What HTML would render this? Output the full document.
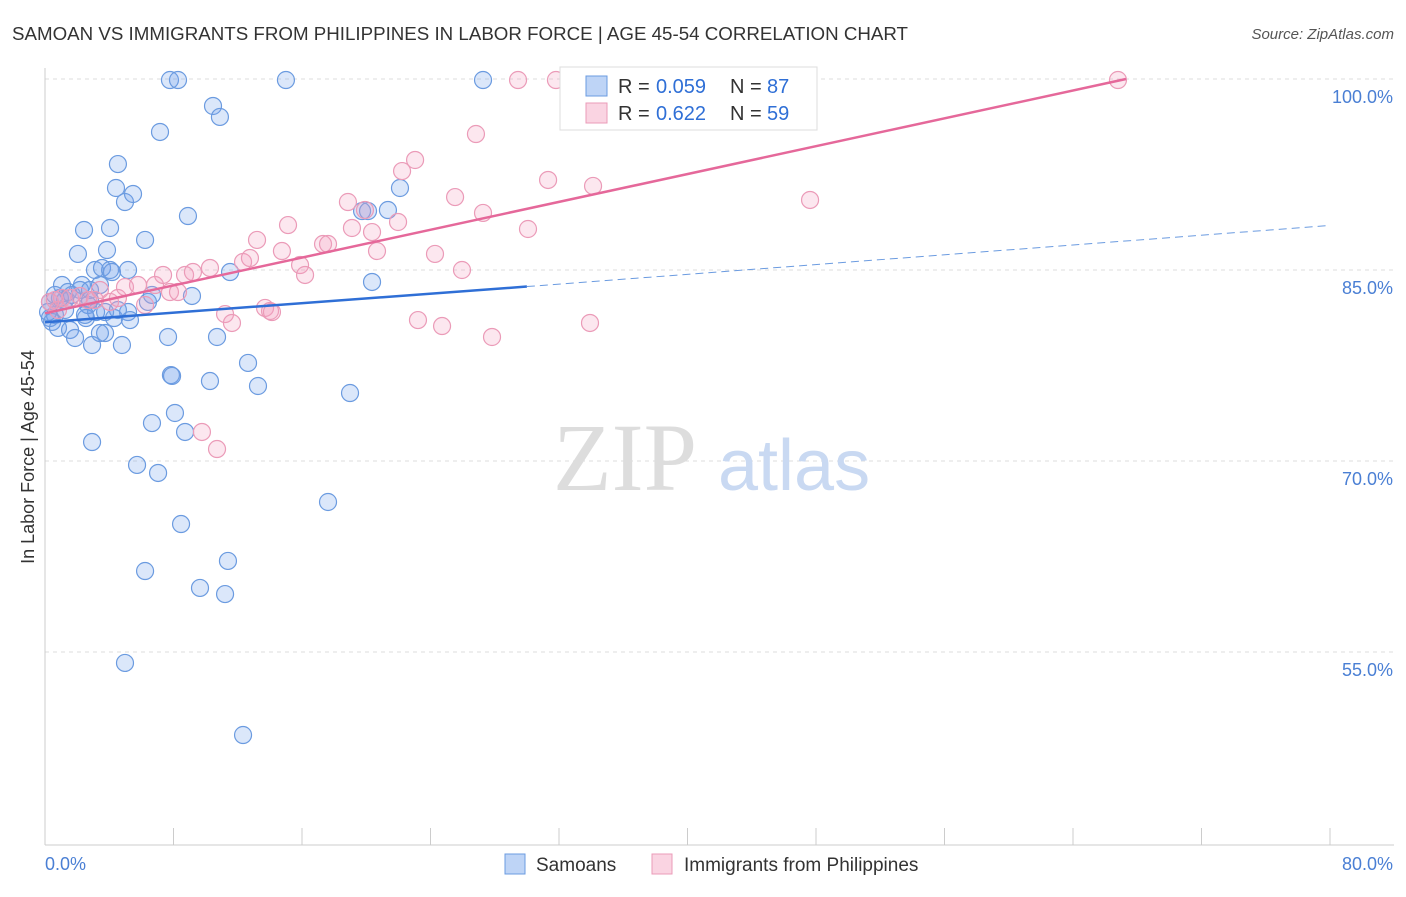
<!DOCTYPE html>
<html><head><meta charset="utf-8"><style>
body{margin:0;background:#fff;font-family:"Liberation Sans",sans-serif}
</style></head><body>
<svg id="chart" width="1406" height="892" xmlns="http://www.w3.org/2000/svg"></svg>
<script>
const bluePx=[[50,318],[55,315],[52,322],[58,328],[48,312],[62,285],[65,300],[68,292],[70,330],[72,295],[75,338],[78,254],[80,290],[82,285],[84,230],[86,318],[88,305],[90,300],[92,345],[92,442],[95,270],[96,312],[100,285],[102,268],[105,333],[107,250],[110,228],[110,270],[112,272],[114,318],[116,188],[118,164],[122,345],[125,202],[125,663],[128,312],[128,270],[133,194],[137,465],[145,240],[145,571],[148,302],[152,295],[152,423],[158,473],[160,132],[168,337],[170,80],[171,375],[172,376],[175,413],[178,80],[181,524],[185,432],[188,216],[192,296],[200,588],[210,381],[213,106],[217,337],[220,117],[225,594],[228,561],[230,272],[243,735],[248,363],[258,386],[286,80],[328,502],[350,393],[362,211],[368,211],[372,282],[388,210],[400,188],[483,80],[100,333],[105,312],[60,298],[90,290],[65,310],[85,315],[50,302],[130,320],[118,310],[55,295]];
const pinkPx=[[50,302],[55,300],[58,310],[62,298],[70,298],[80,296],[88,300],[95,300],[100,290],[110,302],[118,298],[125,287],[138,285],[145,305],[155,285],[163,275],[170,292],[178,292],[185,275],[193,272],[202,432],[210,268],[217,449],[225,314],[232,323],[243,262],[250,258],[257,240],[265,308],[270,311],[272,312],[282,251],[288,225],[300,265],[305,275],[323,244],[328,244],[348,202],[352,228],[365,210],[372,232],[377,251],[398,222],[402,171],[415,160],[418,320],[435,254],[442,326],[455,197],[462,270],[476,134],[483,213],[492,337],[518,80],[528,229],[548,180],[556,80],[590,323],[593,186],[810,200],[1118,80]];
// data arrays (x: %, y: %)
const samoanX=bluePx.map(p=>+((p[0]-45)*80/1285).toFixed(2));
const samoanY=bluePx.map(p=>+(100-(p[1]-79)*15/191).toFixed(2));
const philX=pinkPx.map(p=>+((p[0]-45)*80/1285).toFixed(2));
const philY=pinkPx.map(p=>+(100-(p[1]-79)*15/191).toFixed(2));
const yTicks=[100,85,70,55];
const yTickLabels=["100.0%","85.0%","70.0%","55.0%"];
const blueTrend=[[0,80.9],[30,83.7],[80,88.5]];
const pinkTrend=[[0,81.6],[67.3,100]];

const sx=v=>45+v*1285/80, sy=v=>79+(100-v)*191/15;
const svg=document.getElementById('chart');
const NS='http://www.w3.org/2000/svg';
function mk(t,a,txt){const e=document.createElementNS(NS,t);for(const k in a)e.setAttribute(k,a[k]);if(txt!=null)e.textContent=txt;svg.appendChild(e);return e;}
let e;
e=mk('text',{x:12,y:40,'font-size':18,fill:'#333',textLength:896,lengthAdjust:'spacingAndGlyphs'},'SAMOAN VS IMMIGRANTS FROM PHILIPPINES IN LABOR FORCE | AGE 45-54 CORRELATION CHART');


e=mk('text',{x:1394,y:39,'font-size':15,fill:'#555','text-anchor':'end','font-style':'italic'},'Source: ZipAtlas.com');


yTicks.forEach((t,i)=>{
 e=mk('line',{x1:45,x2:1394,y1:sy(t),y2:sy(t),stroke:'#ddd','stroke-dasharray':'4,4'});
 
 
 e=mk('text',{x:1393,y:sy(t)+24,'font-size':18,fill:'#4a7fd4','text-anchor':'end'},yTickLabels[i]);
 
 
});
e=mk('line',{x1:45,x2:45,y1:68,y2:845,stroke:'#ccc'});


e=mk('line',{x1:45,x2:1394,y1:845,y2:845,stroke:'#ccc'});


for(let i=0;i<=10;i++){e=mk('line',{x1:sx(i*8),x2:sx(i*8),y1:828,y2:845,stroke:'#ccc'});
 
 }
e=mk('text',{x:45,y:870,'font-size':18,fill:'#4a7fd4'},'0.0%');


e=mk('text',{x:1393,y:870,'font-size':18,fill:'#4a7fd4','text-anchor':'end'},'80.0%');


e=mk('text',{x:34,y:457,'font-size':18,fill:'#333','text-anchor':'middle',transform:'rotate(-90 34 457)'},'In Labor Force | Age 45-54');


e=mk('text',{x:553,y:490,'font-size':96,fill:'#ddd','font-family':'Liberation Serif, serif'},'ZIP');


e=mk('text',{x:718,y:490,'font-size':72,fill:'#c9d9f2'},'atlas');


samoanX.forEach((x,i)=>{e=mk('circle',{cx:sx(x),cy:sy(samoanY[i]),r:8.5,fill:'rgba(110,160,235,0.25)',stroke:'#6b9be0','stroke-width':1.2});
 
 });
philX.forEach((x,i)=>{e=mk('circle',{cx:sx(x),cy:sy(philY[i]),r:8.5,fill:'rgba(245,160,190,0.25)',stroke:'#eb9bb8','stroke-width':1.2});
 
 });
e=mk('line',{x1:sx(blueTrend[0][0]),y1:sy(blueTrend[0][1]),x2:sx(blueTrend[1][0]),y2:sy(blueTrend[1][1]),stroke:'#2f6fd6','stroke-width':2.5});


e=mk('line',{x1:sx(blueTrend[1][0]),y1:sy(blueTrend[1][1]),x2:sx(blueTrend[2][0]),y2:sy(blueTrend[2][1]),stroke:'#6b9be0','stroke-width':1,'stroke-dasharray':'8,5'});


e=mk('line',{x1:sx(pinkTrend[0][0]),y1:sy(pinkTrend[0][1]),x2:sx(pinkTrend[1][0]),y2:sy(pinkTrend[1][1]),stroke:'#e5689a','stroke-width':2.5});


// legend
e=mk('rect',{x:560,y:67,width:257,height:63,fill:'#fff',stroke:'#ddd'});


[["#6b9be0","rgba(110,160,235,0.45)","0.059","87",86],["#eb9bb8","rgba(245,160,190,0.45)","0.622","59",113]].forEach(r=>{
 e=mk('rect',{x:586,y:r[4]-10,width:21,height:20,fill:r[1],stroke:r[0]});
 
 
 e=mk('text',{x:618,y:r[4]+7,'font-size':20,fill:'#333'},'R = ');
 
 
 e=mk('text',{x:656,y:r[4]+7,'font-size':20,fill:'#2f6fd6'},r[2]);
 
 
 e=mk('text',{x:730,y:r[4]+7,'font-size':20,fill:'#333'},'N = ');
 
 
 e=mk('text',{x:767,y:r[4]+7,'font-size':20,fill:'#2f6fd6'},r[3]);
 
 
});
[[505,"rgba(110,160,235,0.45)","#6b9be0","Samoans",536],[652,"rgba(245,160,190,0.45)","#eb9bb8","Immigrants from Philippines",684]].forEach(r=>{
 e=mk('rect',{x:r[0],y:854,width:20,height:20,fill:r[1],stroke:r[2]});
 
 
 e=mk('text',{x:r[4],y:871,'font-size':19,fill:'#333'},r[3]);
 
 
});
</script>
</body></html>
